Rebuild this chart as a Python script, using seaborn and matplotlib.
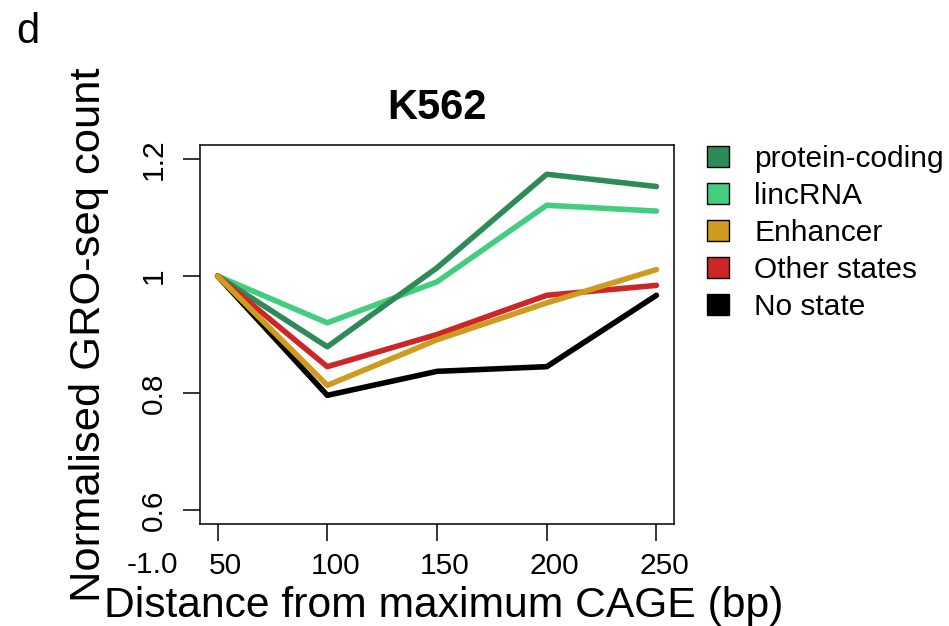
import numpy as np
import pandas as pd
import matplotlib
matplotlib.use("Agg")
import matplotlib.pyplot as plt
import matplotlib.transforms as mtransforms
from matplotlib.patches import Patch
import seaborn as sns

# ---- data ----
distance = [50, 100, 150, 200, 250]
protein_coding = [1.000, 0.879, 1.014, 1.174, 1.153]
lincrna = [1.000, 0.920, 0.990, 1.121, 1.111]
enhancer = [1.000, 0.813, 0.891, 0.954, 1.011]
other_states = [1.000, 0.845, 0.900, 0.967, 0.984]
no_state = [1.000, 0.796, 0.837, 0.845, 0.967]

legend_order = ["protein-coding", "lincRNA", "Enhancer", "Other states", "No state"]
draw_order = ["lincRNA", "protein-coding", "No state", "Other states", "Enhancer"]
colors = {"protein-coding": "#2E8B57", "lincRNA": "#43CD80",
          "Enhancer": "#CD9B1D", "Other states": "#CD2626", "No state": "#000000"}
xticks = [50, 100, 150, 200, 250]
yticks = [0.6, 0.8, 1.0, 1.2]
ytick_labels = ["0.6", "0.8", "1", "1.2"]

series = {"protein-coding": protein_coding, "lincRNA": lincrna, "Enhancer": enhancer,
          "Other states": other_states, "No state": no_state}
df = pd.DataFrame([{"distance": d, "value": v, "type": k}
                   for k, vals in series.items() for d, v in zip(distance, vals)])

sns.set_theme(style="ticks")
plt.rcParams["font.family"] = ["Liberation Sans", "DejaVu Sans"]
plt.rcParams["text.color"] = "black"
plt.rcParams["axes.labelcolor"] = "black"

W, H = 949, 626
fig = plt.figure(figsize=(W / 100, H / 100), dpi=100)
ax = fig.add_axes([200 / W, (H - 524) / H, 474 / W, 379 / H])

sns.lineplot(data=df, x="distance", y="value", hue="type", hue_order=draw_order,
             palette=colors, linewidth=4.0, legend=False, ax=ax, errorbar=None)
for ln in ax.get_lines():
    ln.set_solid_capstyle("round")
    ln.set_solid_joinstyle("round")

ax.set_xlim(42, 258)
ax.set_ylim(0.576, 1.224)
ax.set_xticks(xticks)
ax.set_xticklabels([str(x) for x in xticks])
ax.set_yticks(yticks)
ax.set_yticklabels(ytick_labels)

for sp in ax.spines.values():
    sp.set_visible(True)
    sp.set_color("black")
    sp.set_linewidth(1.1)

ax.tick_params(axis="both", direction="out", length=12.2, width=1.1, color="black",
               labelsize=21.5, labelcolor="black")
ax.tick_params(axis="x", pad=7.9)
ax.tick_params(axis="y", pad=10.8, labelrotation=90)
for lab in ax.get_yticklabels():
    lab.set_verticalalignment("center")
offset = mtransforms.ScaledTranslation(8 / 100, 0, fig.dpi_scale_trans)
for lab in ax.get_xticklabels():
    lab.set_transform(lab.get_transform() + offset)

ax.set_xlabel("Distance from maximum CAGE (bp)", fontsize=30.7, color="black")
ax.xaxis.set_label_coords((444 - 200) / 474, (524 - 617) / 379)
ax.xaxis.label.set_verticalalignment("baseline")
ax.set_ylabel("Normalised GRO-seq count", fontsize=31.3, color="black")
ax.yaxis.set_label_coords((100.5 - 200) / 474, 0.5)
ax.yaxis.label.set_verticalalignment("baseline")

ax.set_title("K562", fontsize=30, fontweight="bold", y=(524 - 119) / 379, pad=0,
             color="black")

fig.text(16 / W, 1 - 43 / H, "d", fontsize=30, ha="left", va="baseline", color="black")
fig.text(152.5 / W, 1 - 573 / H, "-1.0", fontsize=21.5, ha="center", va="baseline",
         color="black")

handles = [Patch(facecolor=colors[k], edgecolor="black", linewidth=1.0, label=k)
           for k in legend_order]
leg = fig.legend(handles=handles, loc="upper left", bbox_to_anchor=(707 / W, 1 - 145 / H),
                 frameon=False, fontsize=21.5, handlelength=0.74, handleheight=0.70,
                 handletextpad=0.85, labelspacing=0.3, borderpad=0, borderaxespad=0)
for t in leg.get_texts():
    t.set_color("black")

fig.savefig("out.png", dpi=100)
